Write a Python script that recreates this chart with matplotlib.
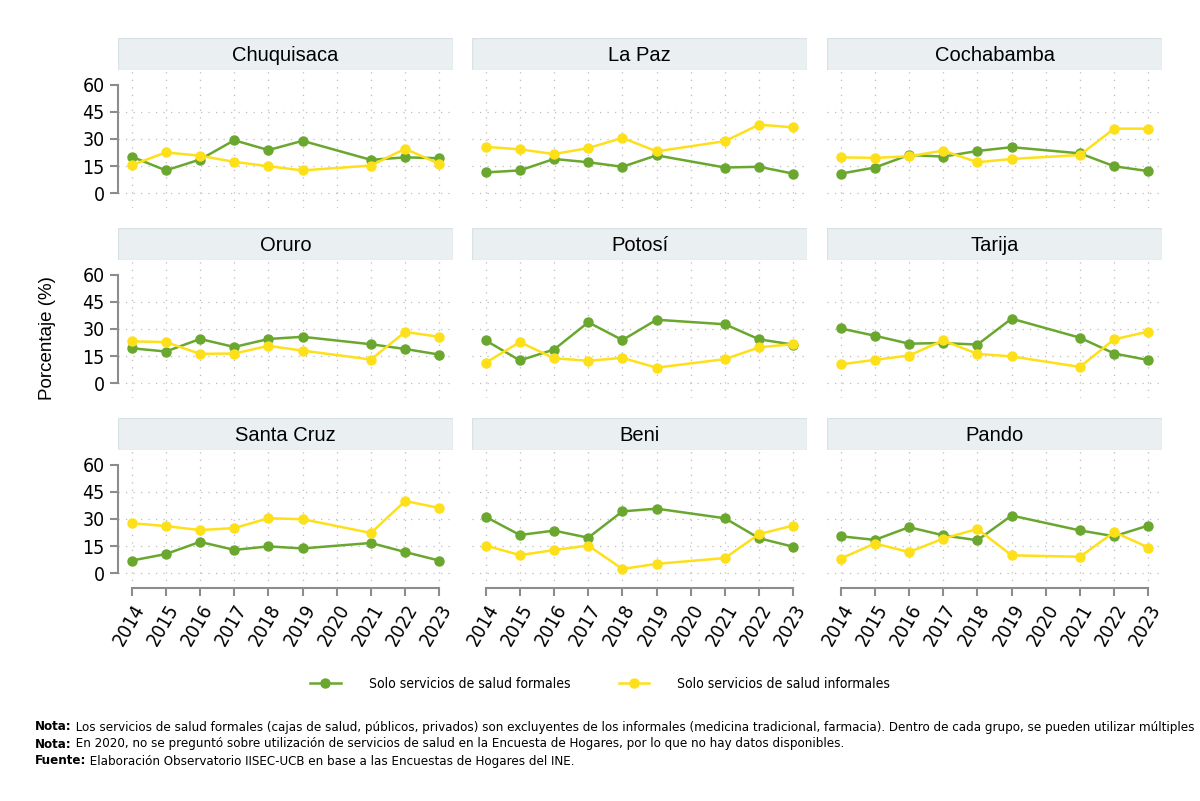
import numpy as np
import matplotlib
matplotlib.use("Agg")
import matplotlib.pyplot as plt
from matplotlib import font_manager
from matplotlib.patches import Rectangle
from matplotlib.text import Annotation
from matplotlib.lines import Line2D

# look for a condensed face (Arial Narrow look of the original)
files = [f.fname for f in font_manager.fontManager.ttflist]
def find(keys):
    for k in keys:
        for f in files:
            if k.lower() in f.lower().replace("-", "").replace("_", ""):
                return f
    return None

narrow_reg = find(["LiberationSansNarrowRegular", "DejaVuSansCondensed.ttf", "NotoSansCondensed.ttf",
                   "NotoSansDisplayCondensed", "RobotoCondensedRegular"])
narrow_bold = find(["LiberationSansNarrowBold.ttf", "DejaVuSansCondensedBold.ttf", "NotoSansCondensedBold.ttf",
                    "RobotoCondensedBold"])

def fp(size, bold=False):
    f = narrow_bold if bold else narrow_reg
    if f:
        return font_manager.FontProperties(fname=f, size=size)
    return font_manager.FontProperties(family=["Liberation Sans", "DejaVu Sans"], size=size,
                                       weight="bold" if bold else "normal")

REG = ["Liberation Sans", "DejaVu Sans"]

years = [2014, 2015, 2016, 2017, 2018, 2019, 2021, 2022, 2023]
tick_years = list(range(2014, 2024))

deptos = ["Chuquisaca", "La Paz", "Cochabamba",
          "Oruro", "Potosí", "Tarija",
          "Santa Cruz", "Beni", "Pando"]

formales = {
    "Chuquisaca": [20.3, 12.7, 18.7, 29.3, 23.9, 29.0, 18.5, 19.9, 19.4],
    "La Paz":     [11.6, 12.7, 19.0, 17.2, 14.7, 21.0, 14.3, 14.7, 10.9],
    "Cochabamba": [10.9, 14.3, 21.2, 20.3, 23.4, 25.5, 22.1, 15.0, 12.3],
    "Oruro":      [19.4, 17.6, 24.5, 20.1, 24.5, 25.7, 21.6, 19.0, 15.9],
    "Potosí":     [23.7, 12.7, 18.7, 33.7, 23.9, 35.1, 32.6, 24.3, 21.4],
    "Tarija":     [30.3, 26.3, 21.9, 22.3, 21.4, 35.7, 25.2, 16.5, 12.9],
    "Santa Cruz": [7.1, 10.7, 17.4, 13.0, 14.9, 13.8, 16.8, 11.8, 7.1],
    "Beni":       [31.2, 21.2, 23.6, 19.7, 34.2, 35.7, 30.4, 19.4, 14.7],
    "Pando":      [20.5, 18.5, 25.5, 21.0, 18.3, 31.9, 23.7, 20.5, 26.4],
}
informales = {
    "Chuquisaca": [15.6, 22.6, 20.8, 17.4, 15.0, 12.7, 15.4, 24.6, 16.3],
    "La Paz":     [25.7, 24.3, 21.7, 25.0, 30.6, 23.2, 28.8, 37.9, 36.4],
    "Cochabamba": [19.9, 19.6, 20.5, 23.6, 17.2, 19.0, 21.2, 35.7, 35.7],
    "Oruro":      [23.2, 22.8, 16.3, 16.5, 20.7, 18.1, 13.2, 28.4, 25.7],
    "Potosí":     [11.4, 22.8, 13.9, 12.5, 14.1, 8.7, 13.4, 19.9, 21.7],
    "Tarija":     [10.5, 13.0, 15.4, 23.7, 16.3, 14.9, 9.1, 24.3, 28.6],
    "Santa Cruz": [27.7, 26.1, 23.9, 25.0, 30.4, 29.9, 22.3, 39.9, 36.1],
    "Beni":       [15.4, 10.1, 12.9, 15.4, 2.5, 5.3, 8.5, 21.7, 26.4],
    "Pando":      [8.2, 16.5, 11.8, 19.2, 24.5, 10.0, 9.2, 22.8, 14.3],
}

GREEN = "#6aa72e"
YELLOW = "#fde01a"
GRAY = "#8c8c8c"

W, H = 1200, 801
fig = plt.figure(figsize=(W / 100, H / 100), dpi=100)

col_x = [118, 472, 827]
row_y = [70, 260, 450]
pw, ph = 335, 138
strip_h = 32

def fr(x, y, w, h):
    return [x / W, 1 - (y + h) / H, w / W, h / H]

for i, d in enumerate(deptos):
    r, c = divmod(i, 3)
    x0, y0 = col_x[c], row_y[r]
    ax = fig.add_axes(fr(x0, y0, pw, ph))
    ax.set_xlim(2013.6, 2023.4)
    ax.set_ylim(-8, 68)

    for t in [0, 15, 30, 45]:
        ax.axhline(t, color="#bdbdbd", lw=0.9, ls=(0, (1, 5)), zorder=0)
    for t in tick_years:
        ax.axvline(t, color="#bdbdbd", lw=0.9, ls=(0, (1, 5)), zorder=0)

    ax.plot(years, formales[d], color=GREEN, lw=1.8, marker="o", ms=6.5, zorder=3)
    ax.plot(years, informales[d], color=YELLOW, lw=1.8, marker="o", ms=6.5, zorder=3)

    for s in ["top", "right"]:
        ax.spines[s].set_visible(False)
    ax.spines["left"].set_bounds(0, 60)
    ax.spines["left"].set_color(GRAY)
    ax.spines["left"].set_linewidth(1.5)
    ax.spines["bottom"].set_bounds(2014, 2023)
    ax.spines["bottom"].set_color(GRAY)
    ax.spines["bottom"].set_linewidth(1.5)

    ax.set_yticks([0, 15, 30, 45, 60])
    ax.set_xticks(tick_years)
    ax.tick_params(colors=GRAY, length=6, width=1.5, labelcolor="black")
    if c == 0:
        ax.set_yticklabels([0, 15, 30, 45, 60], fontproperties=fp(14))
    else:
        ax.spines["left"].set_visible(False)
        ax.tick_params(axis="y", left=False, labelleft=False)
    if r == 2:
        ax.set_xticklabels(tick_years, fontproperties=fp(14),
                           rotation=60, ha="right", rotation_mode="anchor")
    else:
        ax.spines["bottom"].set_visible(False)
        ax.tick_params(axis="x", bottom=False, labelbottom=False)

    # strip title
    sax = fig.add_axes(fr(x0, y0 - strip_h, pw, strip_h))
    sax.set_xlim(0, 1)
    sax.set_ylim(0, 1)
    sax.axis("off")
    sax.add_patch(Rectangle((0, 0), 1, 1, facecolor="#eaf0f2", edgecolor="#d8e2e5", lw=1))
    sax.text(0.5, 0.45, d, ha="center", va="center", fontsize=14.5, family=REG)

fig.text(48 / W, 1 - 338 / H, "Porcentaje (%)", rotation=90, ha="center", va="center",
         fontsize=13.5, family=REG)

handles = [Line2D([], [], color=GREEN, lw=1.8, marker="o", ms=6.5),
           Line2D([], [], color=YELLOW, lw=1.8, marker="o", ms=6.5)]
fig.legend(handles, ["Solo servicios de salud formales", "Solo servicios de salud informales"],
           loc="center", bbox_to_anchor=(0.5, 1 - 684 / H), ncol=2, frameon=False,
           prop=fp(10), columnspacing=3.5, handlelength=2.2, handletextpad=2.0)

notes = [
    ("Nota:", " Los servicios de salud formales (cajas de salud, públicos, privados) son excluyentes de los informales (medicina tradicional, farmacia). Dentro de cada grupo, se pueden utilizar múltiples"),
    ("Nota:", " En 2020, no se preguntó sobre utilización de servicios de salud en la Encuesta de Hogares, por lo que no hay datos disponibles."),
    ("Fuente:", " Elaboración Observatorio IISEC-UCB en base a las Encuestas de Hogares del INE."),
]

# shrink note size until the longest line fits in the figure
nsize = 12.0
renderer = fig.canvas.get_renderer()
while nsize > 7:
    t1 = fig.text(35 / W, 0.05, notes[0][0], fontproperties=fp(nsize, True))
    t2 = fig.text(35 / W, 0.05, notes[0][1], fontproperties=fp(nsize))
    wtot = t1.get_window_extent(renderer).width + t2.get_window_extent(renderer).width
    t1.remove()
    t2.remove()
    if 35 + wtot < W - 3:
        break
    nsize -= 0.25

for k, (b, rest) in enumerate(notes):
    yy = 1 - (727 + 17 * k) / H
    tb = fig.text(35 / W, yy, b, fontproperties=fp(nsize, True), va="center")
    ann = Annotation(rest, xy=(1, 0.5), xycoords=tb, va="center", ha="left",
                     fontproperties=fp(nsize))
    fig.add_artist(ann)

fig.savefig("out.png", dpi=100)
